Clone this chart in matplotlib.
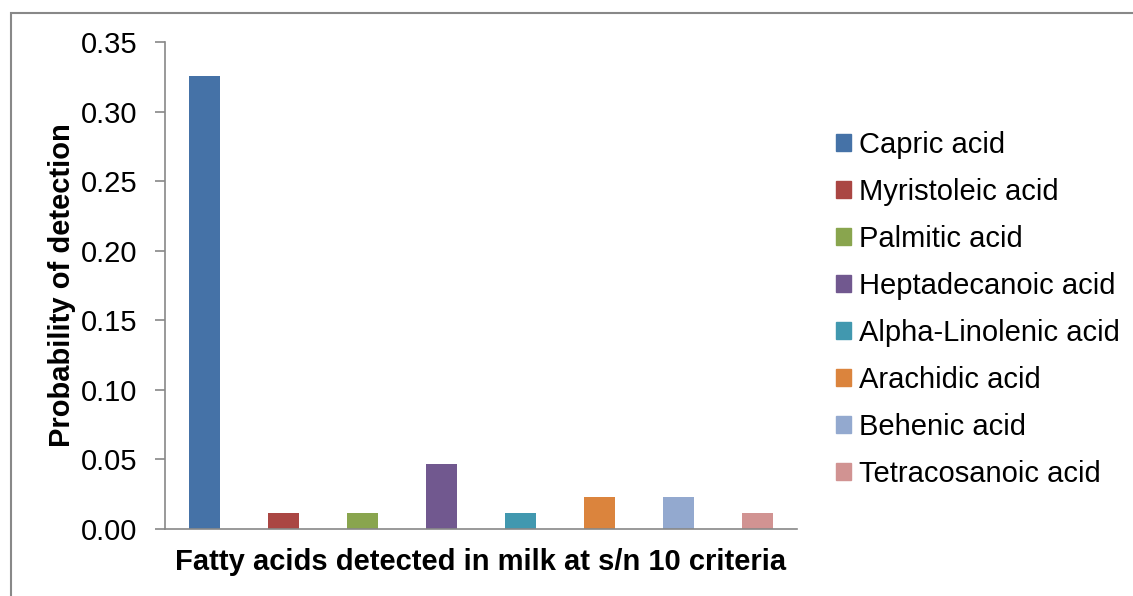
import matplotlib
matplotlib.use("Agg")
import matplotlib.pyplot as plt
from matplotlib.patches import Rectangle

plt.rcParams['font.family'] = ['Liberation Sans', 'DejaVu Sans']

acids = ["Capric acid", "Myristoleic acid", "Palmitic acid", "Heptadecanoic acid",
         "Alpha-Linolenic acid", "Arachidic acid", "Behenic acid", "Tetracosanoic acid"]
probabilities = [0.3256, 0.0116, 0.0116, 0.0465, 0.0116, 0.0233, 0.0233, 0.0116]
colors = ["#4572A7", "#AA4643", "#89A54E", "#71588F", "#4198AF", "#DB843D", "#93A9CF", "#D19392"]
yticks = [0.00, 0.05, 0.10, 0.15, 0.20, 0.25, 0.30, 0.35]
x_label = "Fatty acids detected in milk at s/n 10 criteria"
y_label = "Probability of detection"

W, H = 1133, 596
fig = plt.figure(figsize=(W / 100, H / 100), dpi=100)

# outer chart border
fig.patches.append(Rectangle((11 / W, -0.01), 1.05, 1 - 13 / H + 0.01, transform=fig.transFigure,
                             fill=False, edgecolor="#888888", linewidth=1.5))

ax = fig.add_axes([165 / W, 1 - 529 / H, (797 - 165) / W, (529 - 42) / H])
positions = list(range(len(acids)))
ax.bar(positions, probabilities, width=0.4, color=colors, label=acids)

ax.set_xlim(-0.5, len(acids) - 0.5)
ax.set_ylim(0, 0.35)
ax.set_yticks(yticks)
ax.set_yticklabels([f"{v:.2f}" for v in yticks], fontsize=21)
ax.set_xticks([])

for s in ["top", "right"]:
    ax.spines[s].set_visible(False)
for s in ["left", "bottom"]:
    ax.spines[s].set_color("#888888")
    ax.spines[s].set_linewidth(1.2)
ax.tick_params(axis="y", direction="out", length=7, width=1.2, color="#888888", pad=13)

ax.set_ylabel(y_label, fontsize=21, fontweight="bold", labelpad=3)
ax.set_xlabel(x_label, fontsize=21, fontweight="bold", labelpad=13.5)

handles = [Rectangle((0, 0), 1, 1, color=c) for c in colors]
leg = fig.legend(handles, acids, loc="upper left", bbox_to_anchor=(836 / W, 1 - 131 / H),
                 frameon=False, fontsize=21, handlelength=0.5, handleheight=0.5,
                 handletextpad=0.28, labelspacing=0.65, borderaxespad=0, borderpad=0)

fig.savefig("out.png", dpi=100)
